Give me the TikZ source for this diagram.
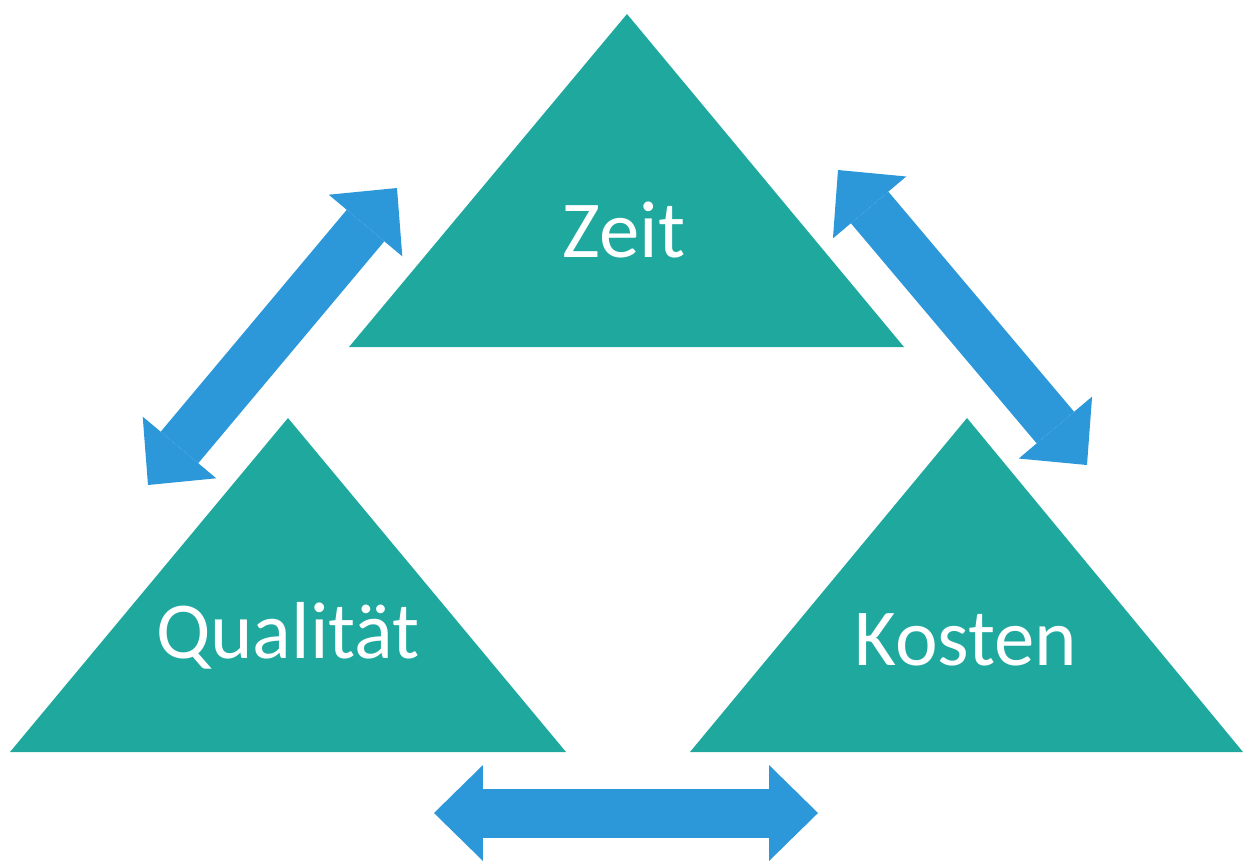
\documentclass[tikz,border=0pt]{standalone}
\usepackage{fontspec}
\setmainfont{Carlito}
\usetikzlibrary{arrows.meta}
\definecolor{tuerkis}{RGB}{31,168,158}
\definecolor{blau}{RGB}{44,152,218}
\begin{document}
\begin{tikzpicture}[x=0.02cm,y=-0.02cm,line join=miter,
  dreieck/.style={fill=tuerkis},
  titel/.style={text=white,font=\fontsize{46}{50}\selectfont,anchor=base,inner sep=0pt},
  doppelpfeil/.style={draw=blau,line width=0.98cm,
    {Triangle[length=0.98cm,width=1.92cm,line width=0pt]}-{Triangle[length=0.98cm,width=1.92cm,line width=0pt]}}]
\def \xmax{1244}\def \ymax{860}
\useasboundingbox (0,0) rectangle (\xmax,\ymax);
\clip (0,0) rectangle (\xmax,\ymax);
% Dreiecke
\fill[dreieck] (627,14) -- (904,347) -- (349,347) -- cycle;
\fill[dreieck] (288,418) -- (566,752) -- (10,752) -- cycle;
\fill[dreieck] (967,418) -- (1243,752) -- (690,752) -- cycle;
\node[titel] (zeit) at (624,257) {Zeit};
\node[titel] (qualitaet) at (288,658) {Qualität};
\node[titel] (kosten) at (966,665) {Kosten};
% Pfeilenden
\coordinate (zq) at (148,485);
\coordinate (qz) at (397,188);
\coordinate (zk) at (838,170);
\coordinate (kz) at (1087,465);
\coordinate (qk) at (434,813);
\coordinate (kq) at (818,813);
\draw[doppelpfeil] (zq) -- (qz);
\draw[doppelpfeil] (zk) -- (kz);
\draw[doppelpfeil] (qk) -- (kq);
\end{tikzpicture}
\end{document}
